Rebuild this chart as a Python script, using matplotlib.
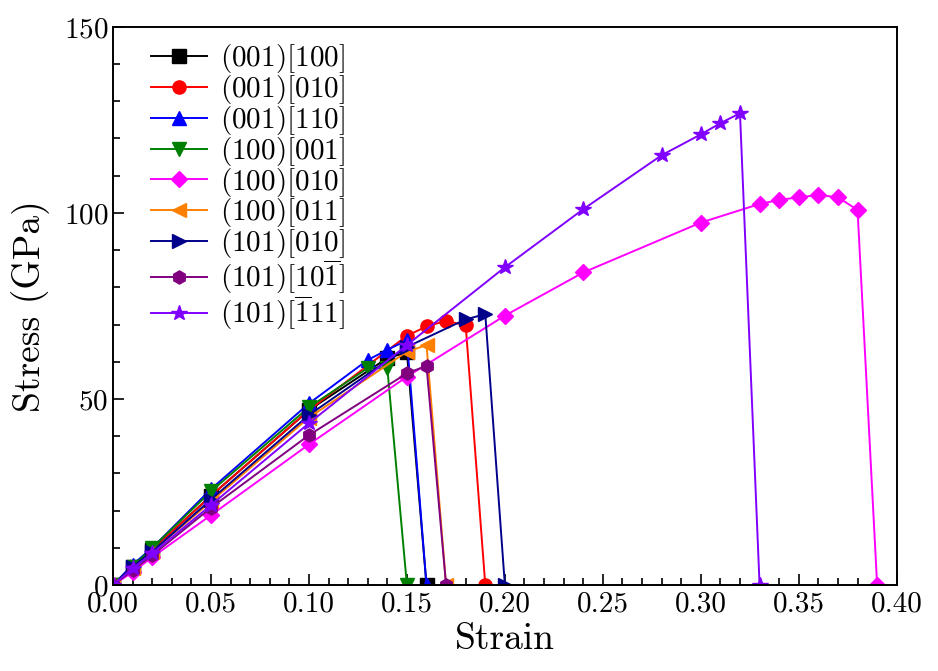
import matplotlib
matplotlib.use("Agg")
import matplotlib.pyplot as plt

plt.rcParams['font.family'] = 'serif'
plt.rcParams['font.serif'] = ['cmr10']
plt.rcParams['mathtext.fontset'] = 'cm'
plt.rcParams['axes.formatter.use_mathtext'] = True

# strain / stress (GPa) for each orientation
s_001_100 = [0, 0.01, 0.02, 0.05, 0.10, 0.14, 0.15, 0.16]
p_001_100 = [0, 5.0, 9.5, 24.0, 47.0, 61.0, 62.5, 0]

s_001_010 = [0, 0.01, 0.02, 0.05, 0.10, 0.15, 0.16, 0.17, 0.18, 0.19]
p_001_010 = [0, 5.0, 9.5, 24.0, 47.0, 67.0, 69.5, 71.0, 69.8, 0]

s_001_110 = [0, 0.01, 0.02, 0.05, 0.10, 0.13, 0.14, 0.15, 0.16]
p_001_110 = [0, 5.5, 10.0, 25.8, 48.8, 60.5, 63.2, 65.8, 0]

s_100_001 = [0, 0.01, 0.02, 0.05, 0.10, 0.13, 0.14, 0.15]
p_100_001 = [0, 5.0, 10.0, 25.2, 47.8, 58.3, 58.3, 0]

s_100_010 = [0, 0.01, 0.02, 0.05, 0.10, 0.15, 0.20, 0.24, 0.30,
             0.33, 0.34, 0.35, 0.36, 0.37, 0.38, 0.39]
p_100_010 = [0, 3.5, 7.5, 18.8, 37.8, 56.0, 72.4, 84.0, 97.4,
             102.4, 103.5, 104.2, 104.8, 104.2, 100.8, 0]

s_100_011 = [0, 0.01, 0.02, 0.05, 0.10, 0.15, 0.16, 0.17]
p_100_011 = [0, 4.5, 9.0, 22.5, 45.0, 62.7, 64.5, 0]

s_101_010 = [0, 0.01, 0.02, 0.05, 0.10, 0.15, 0.18, 0.19, 0.20]
p_101_010 = [0, 5.0, 9.0, 23.0, 45.7, 64.0, 71.4, 72.8, 0]

s_101_10m1 = [0, 0.01, 0.02, 0.05, 0.10, 0.15, 0.16, 0.17]
p_101_10m1 = [0, 4.0, 8.0, 20.8, 40.3, 56.9, 58.9, 0]

s_101_m111 = [0, 0.01, 0.02, 0.05, 0.10, 0.15, 0.20, 0.24, 0.28,
              0.30, 0.31, 0.32, 0.33]
p_101_m111 = [0, 4.5, 8.5, 21.5, 43.5, 64.5, 85.4, 101.0, 115.5,
              121.1, 124.1, 126.8, 0]

series = [
    (s_001_100, p_001_100, r'$(001)[100]$', 'black', 's'),
    (s_001_010, p_001_010, r'$(001)[010]$', 'red', 'o'),
    (s_001_110, p_001_110, r'$(001)[110]$', 'blue', '^'),
    (s_100_001, p_100_001, r'$(100)[001]$', 'green', 'v'),
    (s_100_010, p_100_010, r'$(100)[010]$', 'magenta', 'D'),
    (s_100_011, p_100_011, r'$(100)[011]$', '#FF8000', '<'),
    (s_101_010, p_101_010, r'$(101)[010]$', '#00008B', '>'),
    (s_101_10m1, p_101_10m1, r'$(101)[10\overline{1}]$', 'purple', 'h'),
    (s_101_m111, p_101_m111, r'$(101)[\overline{1}11]$', '#8000FF', '*'),
]

fig = plt.figure(figsize=(9.38, 6.71), dpi=100)
ax = fig.add_axes([0.1205, 0.128, 0.8355, 0.832])

for x, y, lab, c, m in series:
    ms = 11.5 if m == '*' else (8.5 if m == 'D' else 9.5)
    ax.plot(x, y, color=c, marker=m, markersize=ms, lw=1.4, label=lab)

ax.set_xlim(0, 0.40)
ax.set_ylim(0, 150)
ax.set_xticks([0, 0.05, 0.10, 0.15, 0.20, 0.25, 0.30, 0.35, 0.40])
ax.set_xticklabels(['0.00', '0.05', '0.10', '0.15', '0.20', '0.25', '0.30', '0.35', '0.40'])
ax.set_yticks([0, 50, 100, 150])
ax.set_xticks([i / 100 for i in range(41)], minor=True)
ax.set_yticks(range(0, 151, 10), minor=True)
ax.tick_params(which='both', direction='in', labelsize=21, width=1.2)
ax.tick_params(which='major', length=8)
ax.tick_params(axis='x', pad=4)
ax.tick_params(which='minor', length=5)
for sp in ax.spines.values():
    sp.set_linewidth(1.4)

ax.set_xlabel('Strain', fontsize=27, labelpad=4)
ax.set_ylabel('Stress (GPa)', fontsize=27, labelpad=10)

ax.legend(loc='upper left', bbox_to_anchor=(0.019, 1.014), frameon=False,
          fontsize=21, handlelength=1.9, markerscale=1.0,
          labelspacing=-0.075, borderaxespad=0.5, borderpad=0.3, handletextpad=0.45)

fig.savefig('out.png', dpi=100)
